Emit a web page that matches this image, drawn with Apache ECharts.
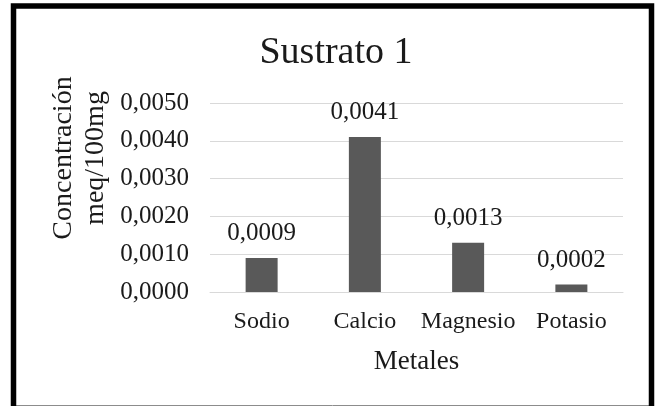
<!DOCTYPE html>
<html>
<head>
<meta charset="utf-8">
<script src="https://cdn.jsdelivr.net/npm/echarts@6/dist/echarts.min.js"></script>
<style>
  html, body { margin: 0; padding: 0; background: #fff; }
  #chart { width: 656px; height: 406px; }
</style>
</head>
<body>
<div id="chart"></div>
<script>
// Concentración de metales en el sustrato 1 (meq/100mg)
const categories = ['Sodio', 'Calcio', 'Magnesio', 'Potasio'];
const values = [0.0009, 0.0041, 0.0013, 0.0002];
const yTicks = { min: 0, max: 0.005, step: 0.001 };

const SERIF = '"Liberation Serif", "Times New Roman", serif';
const fmt = v => v.toFixed(4).replace('.', ',');

const chart = echarts.init(document.getElementById('chart'), null, { renderer: 'canvas' });

chart.setOption({
  animation: false,
  backgroundColor: '#ffffff',
  title: {
    text: 'Sustrato 1',
    left: 331,
    textAlign: 'center',
    top: 29,
    textStyle: { fontFamily: SERIF, fontSize: 38, fontWeight: 'normal', color: '#1a1a1a' }
  },
  grid: { left: 210, right: 33, top: 103, bottom: 114, containLabel: false },
  xAxis: {
    type: 'category',
    data: categories,
    name: 'Metales',
    nameLocation: 'middle',
    nameGap: 56,
    nameTextStyle: { fontFamily: SERIF, fontSize: 27, color: '#1a1a1a' },
    axisLine: { lineStyle: { color: '#d9d9d9', width: 1 } },
    axisTick: { show: false },
    axisLabel: { interval: 0, hideOverlap: false, fontFamily: SERIF, fontSize: 24, color: '#1a1a1a', margin: 18 }
  },
  yAxis: {
    type: 'value',
    min: yTicks.min,
    max: yTicks.max,
    interval: yTicks.step,
    axisLine: { show: false },
    axisTick: { show: false },
    splitLine: { lineStyle: { color: '#d9d9d9', width: 1 } },
    axisLabel: { fontFamily: SERIF, fontSize: 25, color: '#1a1a1a', margin: 21, formatter: fmt }
  },
  series: [{
    type: 'bar',
    data: values,
    barWidth: 32,
    itemStyle: { color: '#595959' },
    label: {
      show: true,
      position: 'top',
      distance: 12,
      fontFamily: SERIF,
      fontSize: 25,
      color: '#1a1a1a',
      formatter: p => fmt(p.value)
    }
  }],
  graphic: [
    {
      type: 'text',
      x: 80,
      y: 158,
      rotation: Math.PI / 2,
      style: {
        text: 'Concentración\nmeq/100mg',
        fontFamily: SERIF,
        fontSize: 28,
        lineHeight: 32,
        fill: '#1a1a1a',
        align: 'center',
        verticalAlign: 'middle'
      }
    },
    {
      type: 'line',
      shape: { x1: 16, y1: 405.5, x2: 649, y2: 405.5 },
      style: { stroke: '#8c8c8c', lineWidth: 1 }
    },
    {
      type: 'rect',
      shape: { x: 13.5, y: 6, width: 638, height: 430 },
      style: { fill: 'none', stroke: '#000000', lineWidth: 5.5 }
    }
  ]
});
</script>
</body>
</html>
